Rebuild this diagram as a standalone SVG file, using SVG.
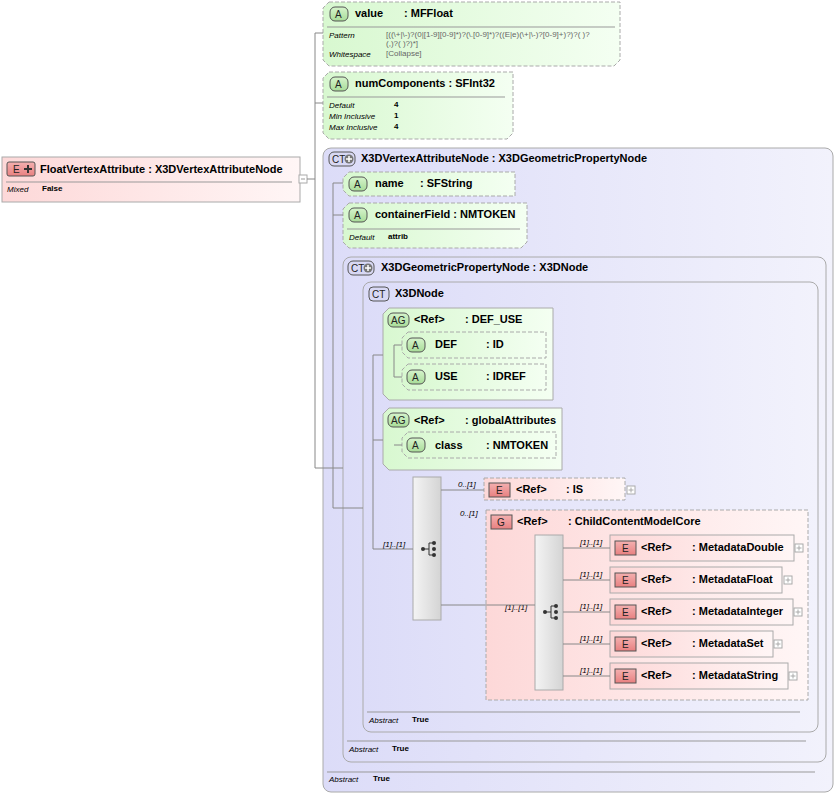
<svg xmlns="http://www.w3.org/2000/svg" width="838" height="795" viewBox="0 0 838 795">
<defs>
<linearGradient id="gG" x1="0" y1="0" x2="1" y2="0"><stop offset="0" stop-color="#d8f8d0"/><stop offset="1" stop-color="#f4fff2"/></linearGradient>
<linearGradient id="gP" x1="0" y1="0" x2="1" y2="0"><stop offset="0" stop-color="#fdd8d8"/><stop offset="1" stop-color="#fff6f6"/></linearGradient>
<linearGradient id="gC" x1="0" y1="0" x2="1" y2="0"><stop offset="0" stop-color="#dcdcf8"/><stop offset="1" stop-color="#f2f2fc"/></linearGradient>
<linearGradient id="gS" x1="0" y1="0" x2="1" y2="0"><stop offset="0" stop-color="#f4f4f4"/><stop offset="1" stop-color="#d4d4d4"/></linearGradient>
<linearGradient id="gB" x1="0" y1="0" x2="0" y2="1"><stop offset="0" stop-color="#f4b0b0"/><stop offset="1" stop-color="#e88080"/></linearGradient>
<linearGradient id="gBA" x1="0" y1="0" x2="0" y2="1"><stop offset="0" stop-color="#d6f4cc"/><stop offset="1" stop-color="#a8dc98"/></linearGradient>
<g id="seqIcon"><circle cx="-6" cy="0" r="2" fill="#333"/><line x1="-6" y1="0" x2="0" y2="0" stroke="#333"/><line x1="0" y1="-6" x2="0" y2="6" stroke="#333"/><line x1="0" y1="-6" x2="4" y2="-6" stroke="#333"/><line x1="0" y1="6" x2="4" y2="6" stroke="#333"/><circle cx="5" cy="-6" r="2" fill="#333"/><circle cx="5" cy="0" r="2" fill="#333"/><circle cx="5" cy="6" r="2" fill="#333"/></g>
<g id="plus"><rect x="-4" y="-4" width="8" height="8" fill="#fff" stroke="#aaa"/><path d="M-2.5 0H2.5M0 -2.5V2.5" stroke="#aaa"/></g>
<g id="ctplus"><circle cx="0" cy="0" r="4.5" fill="#777"/><path d="M-3 0H3M0 -3V3" stroke="#fff" stroke-width="1.5"/></g>
</defs>
<style>
text{font-family:"Liberation Sans",Arial,sans-serif;fill:#000}
.h{font-size:11px;font-weight:bold}
.s{font-size:8px;fill:#666}
.sb{font-size:8px;font-weight:bold}
.m{font-size:8px;font-style:italic}
.ln{stroke:#888;fill:none;stroke-width:1}
.sep{stroke:#999;stroke-width:1}
.att{fill:url(#gG);stroke:#aaa;stroke-dasharray:4 2}
.attS{fill:url(#gG);stroke:#aaa}
.el{fill:url(#gP);stroke:#aaa}
.elD{fill:url(#gP);stroke:#aaa;stroke-dasharray:4 2}
.ct{fill:url(#gC);stroke:#aaa}
.bA{fill:url(#gBA);stroke:#555}
.bE{fill:url(#gB);stroke:#555}
.bC{fill:#d8d8f4;stroke:#555}
.bt{font-size:10px;fill:#222}
</style>

<g id="root">
<rect x="2" y="157" width="298" height="45" fill="url(#gP)" stroke="#aaa"/>
<rect x="7" y="162" width="28" height="14" rx="2" class="bE"/><text x="13" y="173" class="bt">E</text><path d="M24 169H32M28 165V173" stroke="#333" stroke-width="2"/>
<text x="40" y="173" class="h">FloatVertexAttribute : X3DVertexAttributeNode</text>
<line x1="6" y1="182" x2="292" y2="182" class="sep"/>
<text x="7" y="192" class="m">Mixed</text><text x="42" y="191" class="sb">False</text>
<rect x="299" y="175" width="8" height="8" fill="#fff" stroke="#aaa"/><path d="M301 179H305" stroke="#999"/>
</g>

<g id="value">
<path d="M329 2H620V60L614 66H329L323 60V8Z" class="att"/>
<rect x="330" y="7" width="18" height="14" rx="5" class="bA"/><text x="335" y="18" class="bt">A</text>
<text x="355" y="17" class="h">value</text><text x="404" y="17" class="h">: MFFloat</text>
<line x1="327" y1="27" x2="615" y2="27" class="sep"/>
<text x="329" y="38" class="m">Pattern</text>
<text x="386" y="37" class="s">[((\+|\-)?(0|[1-9][0-9]*)?(\.[0-9]*)?((E|e)(\+|\-)?[0-9]+)?)?( )?</text>
<text x="386" y="46" class="s">(,)?( )?)*]</text>
<text x="329" y="57" class="m">Whitespace</text><text x="386" y="56" class="s">[Collapse]</text>
</g>

<g id="numComponents">
<path d="M329 72H513V133L507 139H329L323 133V78Z" class="att"/>
<rect x="330" y="77" width="18" height="14" rx="5" class="bA"/><text x="335" y="88" class="bt">A</text>
<text x="355" y="87" class="h">numComponents  : SFInt32</text>
<line x1="327" y1="97" x2="505" y2="97" class="sep"/>
<text x="329" y="108" class="m">Default</text><text x="394" y="107" class="sb">4</text>
<text x="329" y="119" class="m">Min Inclusive</text><text x="394" y="118" class="sb">1</text>
<text x="329" y="130" class="m">Max Inclusive</text><text x="394" y="129" class="sb">4</text>
</g>

<g id="X3DVertexAttributeNode">
<rect x="323" y="148" width="510" height="644" rx="8" class="ct"/>
<rect x="329" y="152" width="26" height="14" rx="5" class="bC"/><text x="332" y="163" class="bt">CT</text><use href="#ctplus" x="349" y="159"/>
<text x="361" y="162" class="h">X3DVertexAttributeNode : X3DGeometricPropertyNode</text>
<line x1="327" y1="772" x2="815" y2="772" class="sep"/>
<text x="329" y="782" class="m">Abstract</text><text x="373" y="781" class="sb">True</text>
</g>

<g id="name">
<path d="M349 172H515V196H349L343 190V178Z" class="att"/>
<rect x="349" y="177" width="18" height="14" rx="5" class="bA"/><text x="354" y="188" class="bt">A</text>
<text x="375" y="187" class="h">name</text><text x="420" y="187" class="h">: SFString</text>
</g>

<g id="containerField">
<path d="M349 203H527V242L521 248H349L343 242V209Z" class="att"/>
<rect x="349" y="208" width="18" height="14" rx="5" class="bA"/><text x="354" y="219" class="bt">A</text>
<text x="375" y="218" class="h">containerField : NMTOKEN</text>
<line x1="347" y1="229" x2="520" y2="229" class="sep"/>
<text x="349" y="240" class="m">Default</text><text x="388" y="239" class="sb">attrib</text>
</g>

<g id="X3DGeometricPropertyNode">
<rect x="343" y="257" width="483" height="505" rx="8" class="ct"/>
<rect x="348" y="261" width="26" height="14" rx="5" class="bC"/><text x="351" y="272" class="bt">CT</text><use href="#ctplus" x="368" y="268"/>
<text x="381" y="271" class="h">X3DGeometricPropertyNode : X3DNode</text>
<line x1="347" y1="741" x2="806" y2="741" class="sep"/>
<text x="349" y="752" class="m">Abstract</text><text x="392" y="751" class="sb">True</text>
</g>

<g id="X3DNode">
<rect x="363" y="282" width="455" height="450" rx="8" class="ct"/>
<rect x="369" y="287" width="20" height="14" rx="4" class="bC"/><text x="372" y="298" class="bt">CT</text>
<text x="395" y="297" class="h">X3DNode</text>
<line x1="367" y1="712" x2="800" y2="712" class="sep"/>
<text x="369" y="723" class="m">Abstract</text><text x="412" y="722" class="sb">True</text>
</g>

<g id="DEF_USE">
<path d="M389 308H553V400H389L383 394V314Z" class="attS"/>
<rect x="388" y="313" width="21" height="14" rx="5" class="bA"/><text x="391" y="324" class="bt">AG</text>
<text x="414" y="323" class="h">&lt;Ref&gt;</text><text x="465" y="323" class="h">: DEF_USE</text>
</g>
<g id="DEF">
<path d="M408 332H546V358H408L402 352V338Z" class="att"/>
<rect x="407" y="338" width="18" height="14" rx="5" class="bA"/><text x="412" y="349" class="bt">A</text>
<text x="435" y="348" class="h">DEF</text><text x="486" y="348" class="h">: ID</text>
</g>
<g id="USE">
<path d="M408 364H546V390H408L402 384V370Z" class="att"/>
<rect x="407" y="370" width="18" height="14" rx="5" class="bA"/><text x="412" y="381" class="bt">A</text>
<text x="435" y="380" class="h">USE</text><text x="486" y="380" class="h">: IDREF</text>
</g>

<g id="globalAttributes">
<path d="M389 408H562V470H389L383 464V414Z" class="attS"/>
<rect x="388" y="413" width="21" height="14" rx="5" class="bA"/><text x="391" y="424" class="bt">AG</text>
<text x="414" y="424" class="h">&lt;Ref&gt;</text><text x="465" y="424" class="h">: globalAttributes</text>
</g>
<g id="class">
<path d="M408 432H556V458H408L402 452V438Z" class="att"/>
<rect x="407" y="438" width="18" height="14" rx="5" class="bA"/><text x="412" y="449" class="bt">A</text>
<text x="435" y="449" class="h">class</text><text x="486" y="449" class="h">: NMTOKEN</text>
</g>

<g id="sequence1">
<rect x="413" y="477" width="28" height="143" fill="url(#gS)" stroke="#aaa"/>
<use href="#seqIcon" x="429" y="549"/>
<text x="383" y="547" class="m">[1]..[1]</text>
</g>

<g id="IS">
<rect x="484" y="478" width="141" height="22" class="elD"/>
<rect x="489" y="483" width="21" height="14" class="bE"/><text x="496" y="494" class="bt">E</text>
<text x="516" y="493" class="h">&lt;Ref&gt;</text><text x="566" y="493" class="h">: IS</text>
<use href="#plus" x="631" y="490"/>
<text x="458" y="487" class="m">0..[1]</text>
</g>

<g id="ChildContentModelCore">
<rect x="486" y="510" width="322" height="190" class="elD"/>
<rect x="491" y="515" width="21" height="14" class="bE"/><text x="497" y="526" class="bt">G</text>
<text x="517" y="525" class="h">&lt;Ref&gt;</text><text x="568" y="525" class="h">: ChildContentModelCore</text>
<text x="460" y="516" class="m">0..[1]</text>
</g>

<g id="sequence2">
<rect x="535" y="535" width="28" height="155" fill="url(#gS)" stroke="#aaa"/>
<use href="#seqIcon" x="551" y="612"/>
<text x="505" y="610" class="m">[1]..[1]</text>
</g>

<g id="MetadataDouble">
<rect x="610" y="535" width="184" height="26" class="el"/>
<rect x="615" y="541" width="21" height="14" class="bE"/><text x="622" y="552" class="bt">E</text>
<text x="641" y="551" class="h">&lt;Ref&gt;</text><text x="692" y="551" class="h">: MetadataDouble</text>
<use href="#plus" x="799" y="548"/><text x="580" y="545" class="m">[1]..[1]</text>
</g>
<g id="MetadataFloat">
<rect x="610" y="567" width="172" height="26" class="el"/>
<rect x="615" y="573" width="21" height="14" class="bE"/><text x="622" y="584" class="bt">E</text>
<text x="641" y="583" class="h">&lt;Ref&gt;</text><text x="692" y="583" class="h">: MetadataFloat</text>
<use href="#plus" x="788" y="580"/><text x="580" y="577" class="m">[1]..[1]</text>
</g>
<g id="MetadataInteger">
<rect x="610" y="599" width="183" height="26" class="el"/>
<rect x="615" y="605" width="21" height="14" class="bE"/><text x="622" y="616" class="bt">E</text>
<text x="641" y="615" class="h">&lt;Ref&gt;</text><text x="692" y="615" class="h">: MetadataInteger</text>
<use href="#plus" x="798" y="612"/><text x="580" y="609" class="m">[1]..[1]</text>
</g>
<g id="MetadataSet">
<rect x="610" y="631" width="163" height="26" class="el"/>
<rect x="615" y="637" width="21" height="14" class="bE"/><text x="622" y="648" class="bt">E</text>
<text x="641" y="647" class="h">&lt;Ref&gt;</text><text x="692" y="647" class="h">: MetadataSet</text>
<use href="#plus" x="778" y="644"/><text x="580" y="641" class="m">[1]..[1]</text>
</g>
<g id="MetadataString">
<rect x="610" y="663" width="178" height="26" class="el"/>
<rect x="615" y="669" width="21" height="14" class="bE"/><text x="622" y="680" class="bt">E</text>
<text x="641" y="679" class="h">&lt;Ref&gt;</text><text x="692" y="679" class="h">: MetadataString</text>
<use href="#plus" x="793" y="676"/><text x="580" y="673" class="m">[1]..[1]</text>
</g>

<g id="connectors">
<path class="ln" d="M307 179H315M315 33V468H343M315 33H323M315 103H323"/>
<path class="ln" d="M333 183V508H363M333 183H343M333 215H343"/>
<path class="ln" d="M373 355V549H413M373 355H383M373 440H383"/>
<path class="ln" d="M394 345V377M394 345H402M394 377H402M394 445H402"/>
<path class="ln" d="M441 490H484M441 605H535M563 548H610M563 580H610M563 612H610M563 644H610M563 676H610"/>
</g>
</svg>
